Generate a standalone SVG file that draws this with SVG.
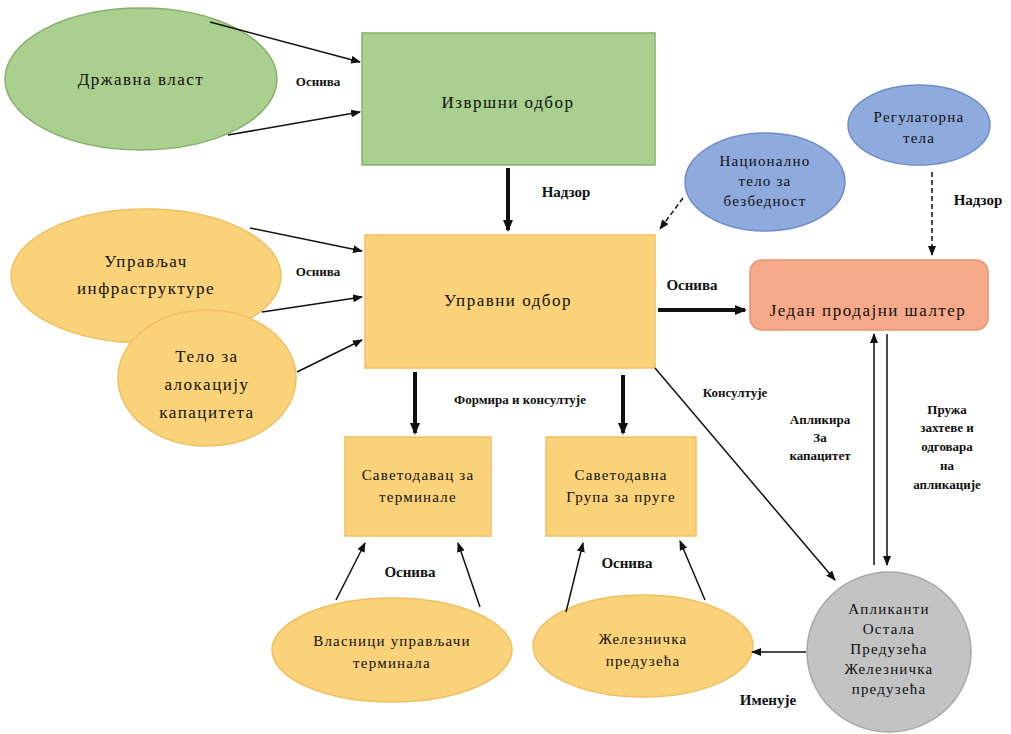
<svg xmlns="http://www.w3.org/2000/svg" width="1011" height="734" viewBox="0 0 1011 734" font-family="'Liberation Serif', 'DejaVu Serif', serif">
<style>
text{fill:#111;text-anchor:middle}
.n{font-size:17px;letter-spacing:1.5px}
.s{font-size:15px;letter-spacing:1.2px}
.l{font-size:13px;font-weight:bold}
.lb{font-size:15px;font-weight:bold}
.green{fill:#a9d08e;stroke:#88b06c;stroke-width:1.5}
.yel{fill:#fad27a;stroke:#f0c060;stroke-width:1.5}
.blue{fill:#8faadc;stroke:#6f8cc6;stroke-width:1.5}
.sal{fill:#f6aa8a;stroke:#e8926e;stroke-width:1.5}
.gray{fill:#c3c3c3;stroke:#a8a8a8;stroke-width:1.5}
.c{stroke:#111;stroke-width:1.5;fill:none;marker-end:url(#a)}
.t{stroke:#111;stroke-width:4;fill:none;marker-end:url(#at)}
.d{stroke:#111;stroke-width:1.5;fill:none;stroke-dasharray:5,3;marker-end:url(#a)}
</style>
<defs>
<marker id="a" markerWidth="10" markerHeight="8" refX="9" refY="4" orient="auto" markerUnits="userSpaceOnUse"><path d="M0,0 L10,4 L0,8 z" fill="#111"/></marker>
<marker id="at" markerWidth="12" markerHeight="10" refX="10" refY="5" orient="auto" markerUnits="userSpaceOnUse"><path d="M0,0 L12,5 L0,10 z" fill="#111"/></marker>
</defs>
<rect width="1011" height="734" fill="#fff"/>
<g id="drzavna"><ellipse class="green" cx="141" cy="79" rx="136" ry="71"/><text class="n" x="141" y="85">Државна власт</text></g>
<g id="izvrsni"><rect class="green" x="362" y="33" width="293" height="132"/><text class="n" x="508" y="108">Извршни одбор</text></g>
<g id="upravni"><rect class="yel" x="365" y="235" width="290" height="133"/><text class="n" x="508" y="306">Управни одбор</text></g>
<g id="nacionalno"><ellipse class="blue" cx="765" cy="182" rx="80" ry="49"/><text class="s" x="765" y="166">Национално</text><text class="s" x="765" y="186">тело за</text><text class="s" x="765" y="206">безбедност</text></g>
<g id="regulatorna"><ellipse class="blue" cx="919" cy="125" rx="71" ry="40"/><text class="s" x="919" y="122">Регулаторна</text><text class="s" x="919" y="143">тела</text></g>
<g id="salter"><rect class="sal" x="750" y="260" width="238" height="70" rx="12"/><text class="n" x="868" y="316">Један продајни шалтер</text></g>
<g id="upravljac"><ellipse class="yel" cx="146" cy="276" rx="135" ry="67"/><text class="n" x="146" y="267">Управљач</text><text class="n" x="146" y="294">инфраструктуре</text></g>
<g id="telo"><ellipse class="yel" cx="207" cy="378" rx="89" ry="68"/><text class="n" x="207" y="362">Тело за</text><text class="n" x="207" y="390">алокацију</text><text class="n" x="207" y="418">капацитета</text></g>
<g id="savetodavac"><rect class="yel" x="345" y="437" width="146" height="99"/><text class="s" x="418" y="480">Саветодавац за</text><text class="s" x="418" y="502">терминале</text></g>
<g id="savetodavna"><rect class="yel" x="546" y="437" width="150" height="99"/><text class="s" x="621" y="480">Саветодавна</text><text class="s" x="621" y="502">Група за пруге</text></g>
<g id="vlasnici"><ellipse class="yel" cx="392" cy="650" rx="120" ry="52"/><text class="s" x="392" y="646">Власници управљачи</text><text class="s" x="392" y="668">терминала</text></g>
<g id="zeleznicka"><ellipse class="yel" cx="643" cy="646" rx="110" ry="51"/><text class="s" x="643" y="644">Железничка</text><text class="s" x="643" y="666">предузећа</text></g>
<g id="aplikanti"><ellipse class="gray" cx="889" cy="652" rx="82" ry="80"/><text class="s" x="889" y="614">Апликанти</text><text class="s" x="889" y="634">Остала</text><text class="s" x="889" y="654">Предузећа</text><text class="s" x="889" y="674">Железничка</text><text class="s" x="889" y="694">предузећа</text></g>
<g id="connectors">
<line class="c" x1="210" y1="22" x2="360" y2="62"/>
<line class="c" x1="228" y1="135" x2="360" y2="112"/>
<line class="t" x1="508" y1="168" x2="508" y2="230"/>
<line class="d" x1="683" y1="198" x2="660" y2="229"/>
<line class="d" x1="932" y1="172" x2="932" y2="255"/>
<line class="t" x1="658" y1="310" x2="745" y2="310"/>
<line class="c" x1="250" y1="228" x2="362" y2="251"/>
<line class="c" x1="262" y1="312" x2="362" y2="297"/>
<line class="c" x1="297" y1="372" x2="362" y2="340"/>
<line class="t" x1="415" y1="372" x2="415" y2="433"/>
<line class="t" x1="623" y1="375" x2="623" y2="433"/>
<line class="c" x1="655" y1="368" x2="835" y2="580"/>
<line class="c" x1="874" y1="565" x2="874" y2="334"/>
<line class="c" x1="887" y1="334" x2="887" y2="565"/>
<line class="c" x1="806" y1="652" x2="752" y2="652"/>
<line class="c" x1="336" y1="600" x2="365" y2="543"/>
<line class="c" x1="480" y1="607" x2="458" y2="543"/>
<line class="c" x1="566" y1="612" x2="583" y2="543"/>
<line class="c" x1="705" y1="600" x2="680" y2="541"/>
</g>
<g id="labels">
<text class="l" x="318" y="86">Оснива</text>
<text class="lb" x="566" y="197">Надзор</text>
<text class="lb" x="978" y="205">Надзор</text>
<text class="l" x="318" y="276">Оснива</text>
<text class="lb" x="692" y="290">Оснива</text>
<text class="l" x="520" y="404">Формира и консултује</text>
<text class="l" x="735" y="397">Консултује</text>
<text class="l" x="820" y="424">Апликира</text>
<text class="l" x="820" y="442">За</text>
<text class="l" x="820" y="460">капацитет</text>
<text class="l" x="947" y="414">Пружа</text>
<text class="l" x="947" y="432">захтеве и</text>
<text class="l" x="947" y="451">одговара</text>
<text class="l" x="947" y="470">на</text>
<text class="l" x="947" y="489">апликације</text>
<text class="lb" x="410" y="577">Оснива</text>
<text class="lb" x="627" y="568">Оснива</text>
<text class="lb" x="768" y="705">Именује</text>
</g>
</svg>
